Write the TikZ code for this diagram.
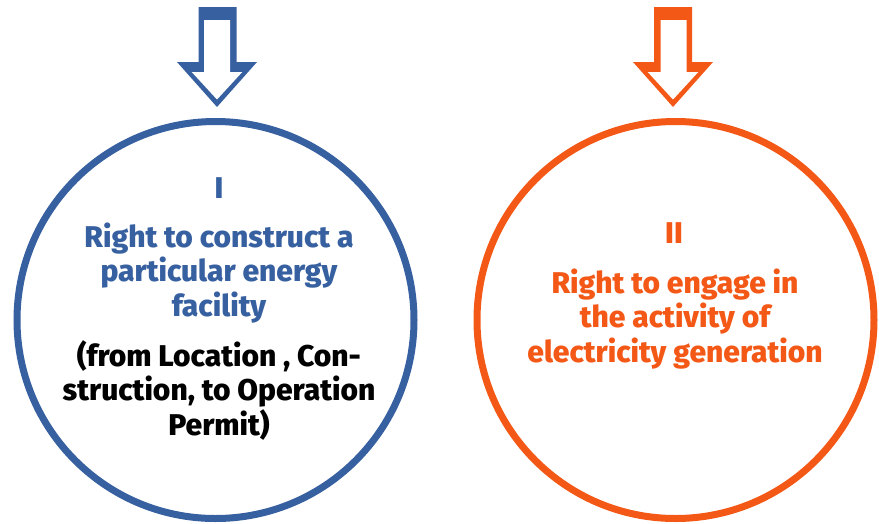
\documentclass[tikz,border=0pt]{standalone}
\usepackage{fontspec}
\setmainfont{Fira Sans}[BoldFont={Fira Sans ExtraBold}]
\definecolor{rblue}{RGB}{55,96,160}
\definecolor{rorange}{RGB}{244,88,22}
\begin{document}
\begin{tikzpicture}[x=1pt,y=-1pt,
  ring/.style={draw=#1, line width=7pt, circle, minimum size=397pt, inner sep=0pt},
  txt/.style={text=#1, font=\fontsize{30}{34.5}\selectfont\bfseries, align=center, anchor=base, inner sep=0pt}]
\useasboundingbox (0,0) rectangle (879,523);
% left arrow
\fill[rblue] (198.5,7) -- (236.5,7) -- (236.5,62) -- (257,62) -- (217,107) -- (177,62) -- (198.5,62) -- cycle;
\fill[white] (204,20) -- (230,20) -- (230,72) -- (242.3,72) -- (217,99.5) -- (191.7,72) -- (204,72) -- cycle;
% right arrow
\fill[rorange] (654,7) -- (692,7) -- (692,62) -- (713,62) -- (673,107) -- (633,62) -- (654,62) -- cycle;
\fill[white] (660.5,20) -- (686.5,20) -- (686.5,72) -- (698.3,72) -- (673,99.5) -- (647.7,72) -- (660.5,72) -- cycle;
% circles
\node[ring=rblue] (c1) at (215.5,320) {};
\node[ring=rorange] (c2) at (675.5,320) {};
% texts (base anchor = last line's baseline)
\node[txt=rblue] (n1) at (219,198) {I};
\node[txt=rblue] (t1) at (219,316) {Right to construct a\\particular energy\\facility};
\node[txt=black] (b1) at (219,435) {(from Location , Con-\\struction, to Operation\\Permit)};
\node[txt=rorange] (n2) at (674,243) {II};
\node[txt=rorange] (t2) at (675,362) {Right to engage in\\the activity of\\electricity generation};
\end{tikzpicture}
\end{document}
